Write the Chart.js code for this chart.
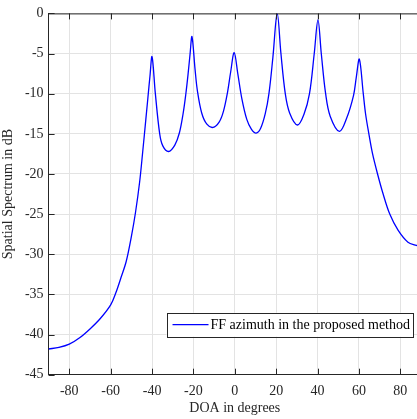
<!DOCTYPE html>
<html>
<head>
<meta charset="utf-8">
<script src="https://cdn.jsdelivr.net/npm/chart.js@4.4.1/dist/chart.umd.min.js"></script>
<style>
  html, body { margin: 0; padding: 0; background: #fff; overflow: hidden; }
  #wrap { width: 422px; height: 419px; }
</style>
</head>
<body>
<div id="wrap"><canvas id="spectrum" width="422" height="419"></canvas></div>
<script>
// DOA sweep (degrees) and spatial spectrum (dB)
const doaDeg = [
  -90, -85, -80, -75, -70, -65, -60, -57.5, -55, -52.5, -50, -48, -46, -44.5, -43, -42, -41, -40,
  -38.4, -36.3, -34.8, -32, -29, -26.8, -25, -23.7, -22.6, -21.6, -20.7,
  -19.2, -18.1, -16, -13.5, -10.5, -7.5, -5.5, -3.5, -2, -0.3,
  1.5, 3.4, 5.8, 8, 10.3, 12.5, 14.8, 16.5, 18.4, 20.5,
  22.3, 24.4, 26.5, 30.3, 33.4, 36.1, 38.4, 40.2,
  41.8, 43.9, 46.1, 50.6, 54, 57.4, 58.7, 60.2,
  62.1, 63.2, 64.8, 66.6, 69, 71.7, 74.9, 78.9, 83.7, 87.8, 90
];
const spectrumDb = [
  -41.8, -41.6, -41.2, -40.4, -39.3, -38.0, -36.3, -34.8, -32.9, -30.9, -27.8, -24.8, -21.0, -17.2, -13.2, -10.5, -7.8, -5.4,
  -10.0, -15.0, -16.5, -17.2, -16.4, -14.9, -12.5, -10.1, -7.6, -5.0, -2.9,
  -7.0, -9.6, -12.4, -13.8, -14.2, -13.5, -12.2, -9.8, -7.3, -4.9,
  -7.6, -10.6, -13.2, -14.4, -14.9, -14.3, -12.4, -10.0, -5.5, 0,
  -5.0, -10.0, -12.4, -13.9, -12.6, -10.0, -5.0, -0.8,
  -5.0, -10.0, -12.8, -14.7, -13.1, -10.2, -8.0, -5.7,
  -10.0, -12.5, -15.0, -17.5, -20.0, -22.5, -25.0, -27.0, -28.5, -28.9, -29.1
];
const xTicks = [-80, -60, -40, -20, 0, 20, 40, 60, 80];
const yTicks = [-45, -40, -35, -30, -25, -20, -15, -10, -5, 0];
const seriesLabel = 'FF azimuth in the proposed method';
const xTitle = 'DOA in degrees';
const yTitle = 'Spatial Spectrum in dB';

const axisColor = '#262626';
const gridColor = '#e3e3e3';
const fontFamily = '"Liberation Serif", "Times New Roman", serif';

// inward tick marks + top box edge, like the original figure
const boxTicks = {
  id: 'boxTicks',
  afterDatasetsDraw(chart) {
    const { ctx, chartArea: a, scales: { x, y } } = chart;
    ctx.save();
    ctx.strokeStyle = axisColor;
    ctx.lineWidth = 1;
    ctx.beginPath();
    ctx.moveTo(a.left, a.top + 0.5);
    ctx.lineTo(a.right, a.top + 0.5);
    xTicks.forEach((v) => {
      const px = Math.round(x.getPixelForValue(v)) + 0.5;
      ctx.moveTo(px, a.bottom); ctx.lineTo(px, a.bottom - 6);
      ctx.moveTo(px, a.top); ctx.lineTo(px, a.top + 6);
    });
    yTicks.forEach((v) => {
      const py = Math.round(y.getPixelForValue(v)) + 0.5;
      ctx.moveTo(a.left, py); ctx.lineTo(a.left + 6, py);
    });
    ctx.stroke();
    ctx.restore();
  },
};

// boxed legend in the lower right of the axes
const boxLegend = {
  id: 'boxLegend',
  afterDraw(chart) {
    const { ctx, chartArea: a } = chart;
    const ds = chart.data.datasets[0];
    ctx.save();
    ctx.font = '14px ' + fontFamily;
    const tw = ctx.measureText(ds.label).width;
    const right = a.right - 8;
    const w = 44 + tw + 3;
    const left = right - w;
    const top = a.bottom - 62;
    const h = 24;
    ctx.fillStyle = '#fff';
    ctx.fillRect(left, top, w, h);
    ctx.strokeStyle = axisColor;
    ctx.lineWidth = 1;
    ctx.strokeRect(Math.round(left) + 0.5, Math.round(top) + 0.5, Math.round(w), h);
    ctx.strokeStyle = ds.borderColor;
    ctx.lineWidth = ds.borderWidth;
    ctx.beginPath();
    ctx.moveTo(left + 6, top + h / 2);
    ctx.lineTo(left + 42, top + h / 2);
    ctx.stroke();
    ctx.fillStyle = '#000';
    ctx.textBaseline = 'middle';
    ctx.fillText(ds.label, left + 44, top + h / 2 + 1);
    ctx.restore();
  },
};

new Chart(document.getElementById('spectrum'), {
  type: 'line',
  data: {
    datasets: [{
      label: seriesLabel,
      data: doaDeg.map((d, i) => ({ x: d, y: spectrumDb[i] })),
      borderColor: '#0000ff',
      borderWidth: 1.3,
      pointRadius: 0,
      tension: 0.35,
      fill: false,
    }],
  },
  options: {
    responsive: false,
    animation: false,
    layout: { padding: { left: 0, right: 1, top: 11, bottom: 0 } },
    plugins: { legend: { display: false }, tooltip: { enabled: false } },
    scales: {
      x: {
        type: 'linear',
        min: -90,
        max: 90,
        afterBuildTicks: (s) => { s.ticks = xTicks.map((v) => ({ value: v })); },
        afterFit: (s) => { s.height = 44.3; },
        grid: { color: gridColor, drawTicks: false },
        border: { color: axisColor },
        ticks: { color: axisColor, padding: 8, font: { family: fontFamily, size: 14 }, maxRotation: 0 },
        title: { display: true, text: xTitle, color: axisColor, padding: { top: 0, bottom: 2 }, font: { family: fontFamily, size: 14 } },
      },
      y: {
        min: -45,
        max: 0,
        afterBuildTicks: (s) => { s.ticks = yTicks.map((v) => ({ value: v })); },
        afterFit: (s) => { s.width = 48.6; },
        grid: { color: gridColor, drawTicks: false },
        border: { color: axisColor },
        ticks: { color: axisColor, padding: 5, font: { family: fontFamily, size: 14 } },
        title: { display: true, text: yTitle, color: axisColor, padding: { top: 0, bottom: 0 }, font: { family: fontFamily, size: 14 } },
      },
    },
  },
  plugins: [boxTicks, boxLegend],
});
</script>
</body>
</html>
